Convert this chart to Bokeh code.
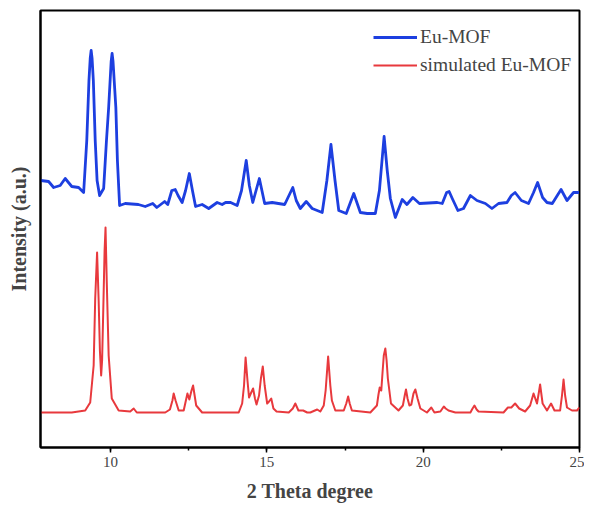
from bokeh.plotting import figure
from bokeh.models import Range1d, SingleIntervalTicker, FixedTicker
from bokeh.embed import file_html
from bokeh.resources import INLINE

# Eu-MOF (experimental, offset upward), 2θ in degrees
blue_x = [7.77, 8.02, 8.18, 8.39, 8.55, 8.76, 8.98, 9.14, 9.24, 9.31,
          9.35, 9.38, 9.41, 9.45, 9.51, 9.57, 9.65, 9.78, 9.87, 9.94,
          10.02, 10.05, 10.08, 10.17,
          10.22, 10.29, 10.47, 10.89, 11.11, 11.35, 11.48, 11.73, 11.83, 11.96,
          12.07, 12.16, 12.29, 12.40, 12.52, 12.62, 12.72, 12.93, 13.14, 13.41,
          13.57, 13.68, 13.84, 14.05, 14.19, 14.34, 14.44, 14.55, 14.76, 14.93,
          15.17, 15.57, 15.83, 15.94, 16.07, 16.26, 16.45, 16.77, 16.92, 17.05,
          17.18, 17.30, 17.54, 17.78, 17.99, 18.21, 18.47, 18.60, 18.75, 18.85,
          18.95, 19.11, 19.33, 19.48, 19.67, 19.88, 20.45, 20.61, 20.75, 20.83,
          20.93, 21.11, 21.29, 21.51, 21.72, 21.99, 22.20, 22.41, 22.68, 22.82,
          22.94, 23.14, 23.37, 23.53, 23.66, 23.82, 23.96, 24.13, 24.41, 24.60,
          24.81, 24.99]
blue_y = [267, 266, 260, 262, 269, 261, 260, 255, 307, 367,
          389, 397, 389, 367, 307, 267, 252, 259, 307, 340,
          386, 394, 386, 340,
          287, 242, 244, 243, 241, 244, 240, 246, 243, 257,
          258, 252, 245, 257, 274, 257, 241, 243, 239, 245,
          243, 245, 245, 242, 257, 287, 262, 245, 269, 244,
          245, 243, 260, 247, 239, 246, 239, 235, 267, 303,
          267, 237, 234, 254, 235, 234, 234, 257, 311, 277,
          249, 230, 248, 243, 250, 244, 245, 244, 255, 256,
          249, 237, 239, 252, 247, 244, 239, 244, 245, 252,
          255, 247, 244, 255, 265, 250, 245, 244, 258, 247,
          255, 255]

# simulated Eu-MOF
red_x = [7.77, 8.76, 9.19, 9.35, 9.46, 9.51, 9.57, 9.62, 9.66, 9.70,
         9.73, 9.76, 9.81, 9.84, 9.88, 9.94, 10.04, 10.26, 10.63, 10.74,
         10.84, 11.75, 11.90, 11.98, 12.02, 12.08, 12.18, 12.34, 12.41, 12.46,
         12.52, 12.59, 12.64, 12.69, 12.74, 12.93, 14.10, 14.21, 14.27, 14.32,
         14.38, 14.43, 14.50, 14.56, 14.62, 14.67, 14.75, 14.81, 14.87, 14.93,
         15.01, 15.07, 15.14, 15.21, 15.31, 15.70, 15.83, 15.91, 16.01, 16.16,
         16.29, 16.39, 16.61, 16.71, 16.82, 16.88, 16.96, 17.03, 17.08, 17.19,
         17.46, 17.54, 17.60, 17.65, 17.72, 18.31, 18.52, 18.57, 18.61, 18.66,
         18.70, 18.74, 18.79, 18.83, 18.87, 18.97, 19.21, 19.35, 19.41, 19.45,
         19.50, 19.56, 19.62, 19.69, 19.75, 19.82, 19.91, 20.12, 20.26, 20.36,
         20.55, 20.66, 20.72, 20.81, 21.03, 21.51, 21.58, 21.64, 21.71, 21.77,
         22.57, 22.71, 22.82, 22.94, 23.07, 23.26, 23.42, 23.53, 23.64, 23.70,
         23.74, 23.82, 23.96, 24.09, 24.20, 24.38, 24.44, 24.49, 24.54, 24.60,
         24.76, 24.92, 25.00]
red_y = [35, 35, 37, 45, 82, 149, 195, 147, 97, 72,
         87, 127, 197, 220, 165, 92, 49, 37, 36, 39,
         35, 35, 38, 47, 54, 47, 37, 37, 47, 54,
         48, 57, 62, 52, 42, 35, 35, 44, 62, 90,
         67, 50, 55, 59, 49, 43, 52, 69, 81, 62,
         44, 46, 49, 39, 36, 35, 39, 44, 37, 37,
         35, 35, 38, 36, 42, 57, 91, 62, 47, 37,
         37, 44, 51, 44, 37, 35, 42, 53, 60, 57,
         75, 92, 99, 87, 69, 44, 37, 42, 52, 58,
         49, 42, 43, 54, 58, 49, 39, 35, 40, 35,
         36, 41, 39, 37, 35, 35, 39, 42, 38, 36,
         35, 40, 40, 44, 39, 36, 42, 54, 44, 55,
         63, 44, 37, 44, 37, 37, 52, 68, 52, 40,
         37, 37, 40]

series_labels = ["Eu-MOF", "simulated Eu-MOF"]
x_label = "2 Theta degree"
y_label = "Intensity (a.u.)"

SERIF = "Liberation Serif"

p = figure(width=584, height=507, output_backend="svg", toolbar_location=None,
           x_range=Range1d(7.76, 25), y_range=Range1d(0, 437),
           min_border_left=40, min_border_right=5, min_border_top=10,
           min_border_bottom=60)
p.background_fill_color = "white"
p.border_fill_color = "white"
p.grid.visible = False
p.outline_line_color = "black"
p.outline_line_width = 2

p.line(blue_x, blue_y, line_color="#1d3fe0", line_width=2.8, line_join="round",
       legend_label=series_labels[0])
p.line(red_x, red_y, line_color="#e8393d", line_width=2, line_join="round",
       legend_label=series_labels[1])

xa = p.xaxis[0]
xa.ticker = SingleIntervalTicker(interval=5, num_minor_ticks=2)
xa.axis_line_width = 2
xa.major_tick_in = 0
xa.major_tick_out = 5
xa.minor_tick_in = 0
xa.minor_tick_out = 3
xa.major_tick_line_width = 1.5
xa.minor_tick_line_width = 1.5
xa.major_label_text_font = SERIF
xa.major_label_text_font_size = "15px"
xa.major_label_standoff = 4
xa.axis_label = x_label
xa.axis_label_text_font = SERIF
xa.axis_label_text_font_style = "bold"
xa.axis_label_text_font_size = "20px"
xa.axis_label_standoff = 10

ya = p.yaxis[0]
ya.ticker = FixedTicker(ticks=[])
ya.axis_line_width = 2
ya.major_tick_out = 0
ya.major_tick_in = 0
ya.minor_tick_out = 0
ya.major_label_standoff = 0
ya.axis_label = y_label
ya.axis_label_text_font = SERIF
ya.axis_label_text_font_style = "bold"
ya.axis_label_text_font_size = "20px"
ya.axis_label_standoff = 11

lg = p.legend[0]
lg.location = (333, 371)
lg.border_line_color = None
lg.background_fill_alpha = 0
lg.padding = 0
lg.margin = 0
lg.spacing = 6
lg.glyph_width = 44
lg.glyph_height = 20
lg.label_height = 20
lg.label_standoff = 3
lg.label_text_font = SERIF
lg.label_text_font_size = "19.5px"

open("out.html", "w").write(file_html(p, INLINE))
